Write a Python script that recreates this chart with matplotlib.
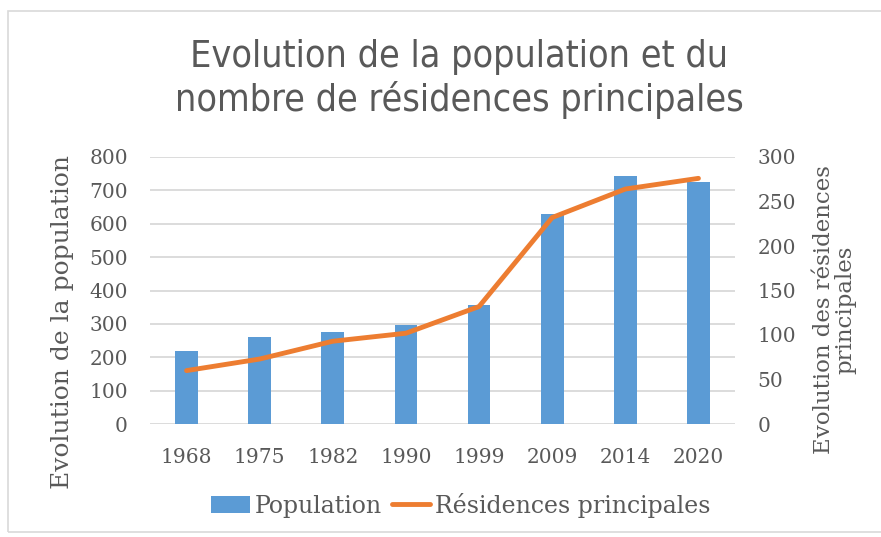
import matplotlib
matplotlib.use('Agg')
import matplotlib.pyplot as plt
from matplotlib import font_manager
from matplotlib.patches import Rectangle
import numpy as np

years = ['1968', '1975', '1982', '1990', '1999', '2009', '2014', '2020']
population = [218, 262, 277, 296, 358, 628, 742, 724]
residences = [60, 73, 93, 102, 132, 232, 264, 276]

grey = '#595959'
serif = ['DejaVu Serif']

# pick a narrow sans for the title if one is installed
fonts = font_manager.fontManager.ttflist
names = {f.name for f in fonts}
title_font = dict(family='DejaVu Sans', size=26)
if 'Liberation Sans Narrow' in names:
    title_font = dict(family='Liberation Sans Narrow', size=29)
elif any(f.name == 'DejaVu Sans' and f.stretch == 'condensed' for f in fonts):
    title_font = dict(family='DejaVu Sans', stretch='condensed', size=27)

fig = plt.figure(figsize=(8.81, 5.37), dpi=100)
fig.patches.append(Rectangle((8 / 881, 1 - 532 / 537), 1.0, 521 / 537, transform=fig.transFigure,
                             fill=False, edgecolor='#d9d9d9', linewidth=1.2))

ax = fig.add_axes([150 / 881, 1 - 424 / 537, 585 / 881, 267 / 537])
x = np.arange(len(years))
bars = ax.bar(x, population, width=0.31, color='#5B9BD5', zorder=2, label='Population')
ax.set_ylim(0, 800)
ax.set_xlim(-0.5, len(years) - 0.5)
ax.set_yticks(range(0, 801, 100))
ax.set_xticks(x)
ax.set_xticklabels(years)
ax.grid(axis='y', color='#d9d9d9', linewidth=1.3, zorder=0)
for s in ax.spines.values():
    s.set_visible(False)
ax.tick_params(length=0, colors=grey, labelsize=14.5)
ax.tick_params(axis='x', pad=17)
ax.tick_params(axis='y', pad=16)
for lab in ax.get_xticklabels() + ax.get_yticklabels():
    lab.set_family(serif)
ax.set_ylabel('Evolution de la population', family=serif, fontsize=18, color=grey)
ax.yaxis.label.set_va('center')
ax.yaxis.set_label_coords(-0.149, 0.382)

ax2 = ax.twinx()
line, = ax2.plot(x, residences, color='#ED7D31', linewidth=3.5, solid_capstyle='round',
                 label='Résidences principales', zorder=3)
ax2.set_ylim(0, 300)
ax2.set_yticks(range(0, 301, 50))
for s in ax2.spines.values():
    s.set_visible(False)
ax2.tick_params(length=0, colors=grey, labelsize=14.5, pad=16)
for lab in ax2.get_yticklabels():
    lab.set_family(serif)
ax2.set_ylabel('Evolution des résidences\nprincipales', family=serif, fontsize=16.5, color=grey,
               rotation=90, linespacing=0.95)
ax2.yaxis.label.set_va('center')
ax2.yaxis.set_label_coords(1.171, 0.427)

fig.text(459 / 881, 1 - 79 / 537, 'Evolution de la population et du\nnombre de résidences principales',
         ha='center', va='center', color=grey, linespacing=1.2, **title_font)

fig.legend([bars, line], ['Population', 'Résidences principales'], loc='center',
           bbox_to_anchor=(461 / 881, 1 - 505 / 537), ncol=2, frameon=False,
           prop={'family': serif, 'size': 17}, labelcolor=grey, handlelength=1.65,
           handletextpad=0.2, columnspacing=0.4)

fig.savefig('out.png', dpi=100)
